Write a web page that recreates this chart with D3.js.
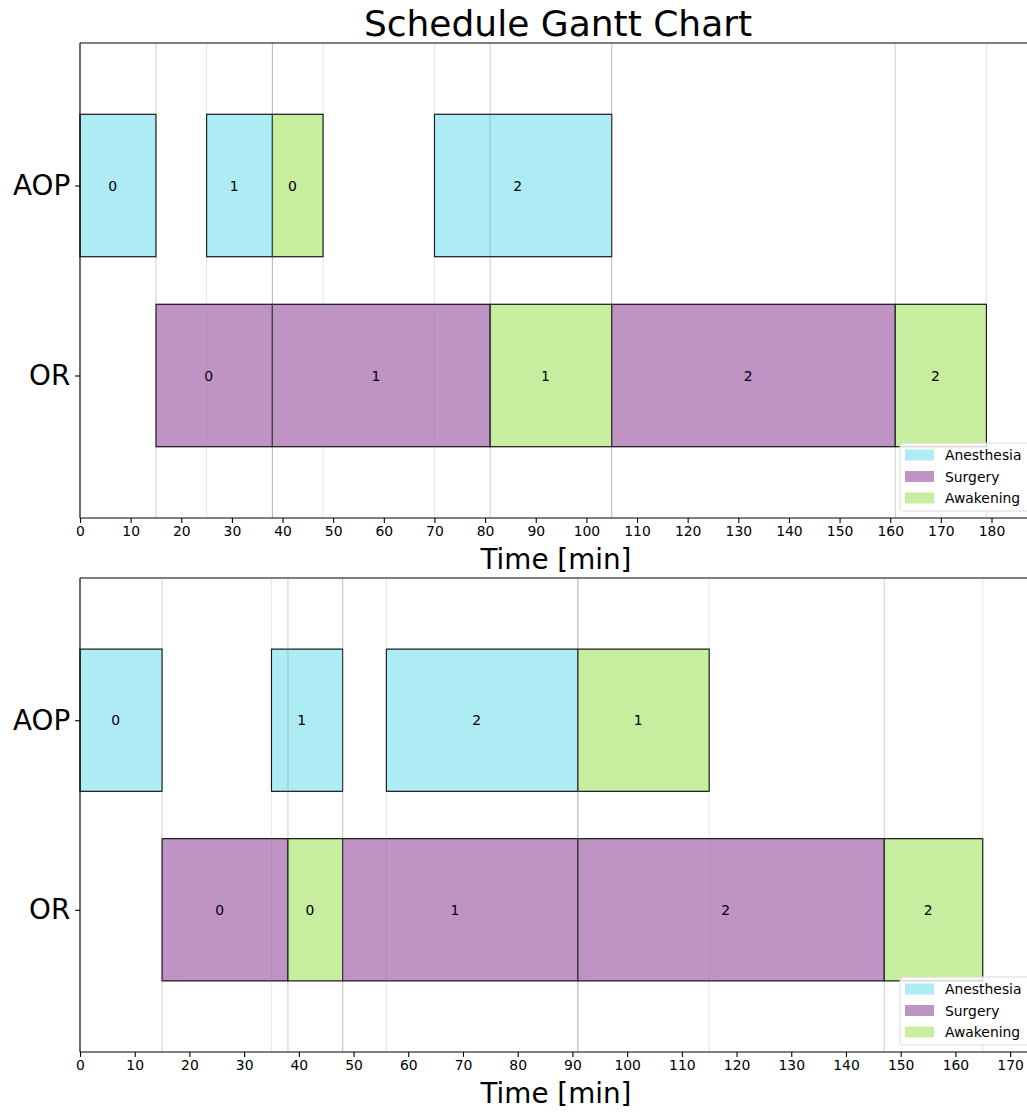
<!DOCTYPE html>
<html>
<head>
<meta charset="utf-8">
<script src="https://cdn.jsdelivr.net/npm/d3@7"></script>
<style>
  html, body { margin: 0; padding: 0; background: #fff; overflow: hidden; }
  svg { display: block; font-family: "DejaVu Sans", sans-serif; }
</style>
</head>
<body>
<svg id="chart" width="1027" height="1113"></svg>
<script>
// ---- data ----
const resources = ["AOP", "OR"];
const phases = ["Anesthesia", "Surgery", "Awakening"];
const phaseColors = ["#ADEBF5", "#BF94C4", "#C7EE9F"];
const title = "Schedule Gantt Chart";
const xLabel = "Time [min]";

// schedule 1 (top)
const s1Resource = ["AOP", "AOP", "AOP", "AOP", "OR", "OR", "OR", "OR", "OR"];
const s1Phase    = ["Anesthesia", "Anesthesia", "Awakening", "Anesthesia", "Surgery", "Surgery", "Awakening", "Surgery", "Awakening"];
const s1Patient  = [0, 1, 0, 2, 0, 1, 1, 2, 2];
const s1Start    = [0, 25, 38, 70, 15, 38, 81, 105, 161];
const s1End      = [15, 38, 48, 105, 38, 81, 105, 161, 179];
const s1XMax = 188;
const s1Ticks = [0,10,20,30,40,50,60,70,80,90,100,110,120,130,140,150,160,170,180];

// schedule 2 (bottom)
const s2Resource = ["AOP", "AOP", "AOP", "AOP", "OR", "OR", "OR", "OR", "OR"];
const s2Phase    = ["Anesthesia", "Anesthesia", "Anesthesia", "Awakening", "Surgery", "Awakening", "Surgery", "Surgery", "Awakening"];
const s2Patient  = [0, 1, 2, 1, 0, 0, 1, 2, 2];
const s2Start    = [0, 35, 56, 91, 15, 38, 48, 91, 147];
const s2End      = [15, 48, 91, 115, 38, 48, 91, 147, 165];
const s2XMax = 174;
const s2Ticks = [0,10,20,30,40,50,60,70,80,90,100,110,120,130,140,150,160,170];

// ---- drawing ----
const svg = d3.select("#chart");
const color = d3.scaleOrdinal().domain(phases).range(phaseColors);
const AX_LEFT = 80, AX_W = 952;

svg.append("text")
  .attr("x", 558).attr("y", 36)
  .attr("text-anchor", "middle")
  .attr("font-size", 36).attr("fill", "#000")
  .text(title);

function drawPanel(top, bottom, resArr, phaseArr, patArr, startArr, endArr, xMax, ticks) {
  const x = d3.scaleLinear().domain([0, xMax]).range([AX_LEFT, AX_LEFT + AX_W]);
  const y = d3.scaleLinear().domain([-0.75, 1.75]).range([top, bottom]);
  const yIndex = d3.scaleOrdinal().domain(resources).range([0, 1]);
  const barH = y(0.375) - y(-0.375);
  const tasks = resArr.map((r, i) => ({ r, p: phaseArr[i], n: patArr[i], s: startArr[i], e: endArr[i] }));

  const g = svg.append("g");

  // bars
  g.selectAll("rect.bar").data(tasks).join("rect")
    .attr("class", "bar")
    .attr("x", d => x(d.s))
    .attr("y", d => y(yIndex(d.r)) - barH / 2)
    .attr("width", d => x(d.e) - x(d.s))
    .attr("height", barH)
    .attr("fill", d => color(d.p))
    .attr("stroke", "#000").attr("stroke-width", 1.1);

  // bar labels
  g.selectAll("text.lbl").data(tasks).join("text")
    .attr("class", "lbl")
    .attr("x", d => x((d.s + d.e) / 2) - 1)
    .attr("y", d => y(yIndex(d.r)) + 5)
    .attr("text-anchor", "end")
    .attr("font-size", 13.9).attr("fill", "#000")
    .text(d => d.n);

  // vertical guide lines at each start/end
  const bounds = [];
  tasks.forEach(d => { bounds.push(d.s); bounds.push(d.e); });
  g.selectAll("line.vl").data(bounds).join("line")
    .attr("class", "vl")
    .attr("x1", d => x(d)).attr("x2", d => x(d))
    .attr("y1", top).attr("y2", bottom)
    .attr("stroke", "#808080").attr("stroke-opacity", 0.18).attr("stroke-width", 1.1);

  // spines
  g.append("line").attr("x1", AX_LEFT).attr("x2", AX_LEFT + AX_W).attr("y1", top).attr("y2", top)
    .attr("stroke", "#000").attr("stroke-width", 1.1);
  g.append("line").attr("x1", AX_LEFT).attr("x2", AX_LEFT + AX_W).attr("y1", bottom).attr("y2", bottom)
    .attr("stroke", "#000").attr("stroke-width", 1.1);
  g.append("line").attr("x1", AX_LEFT).attr("x2", AX_LEFT).attr("y1", top).attr("y2", bottom)
    .attr("stroke", "#000").attr("stroke-width", 1.1);

  // x axis
  const xa = svg.append("g").attr("transform", `translate(0,${bottom})`)
    .call(d3.axisBottom(x).tickValues(ticks).tickSize(4.9).tickPadding(3.5).tickFormat(d3.format("d")));
  xa.select(".domain").remove();
  xa.selectAll(".tick line").attr("stroke", "#000").attr("stroke-width", 1.1);
  xa.selectAll(".tick text").attr("font-size", 13.9).attr("fill", "#000")
    .attr("font-family", "DejaVu Sans, sans-serif");

  // y axis
  const ya = svg.append("g").attr("transform", `translate(${AX_LEFT},0)`)
    .call(d3.axisLeft(y).tickValues([0, 1]).tickSize(4.9).tickPadding(4.9).tickFormat(i => resources[i]));
  ya.select(".domain").remove();
  ya.selectAll(".tick line").attr("stroke", "#000").attr("stroke-width", 1.1);
  ya.selectAll(".tick text").attr("font-size", 27.8).attr("fill", "#000")
    .attr("font-family", "DejaVu Sans, sans-serif");

  // x label
  svg.append("text")
    .attr("x", AX_LEFT + AX_W / 2).attr("y", bottom + 51)
    .attr("text-anchor", "middle")
    .attr("font-size", 27.8).attr("fill", "#000")
    .text(xLabel);

  // legend (lower right)
  const lgBottom = bottom - 7, lgTop = lgBottom - 68, lgLeft = 900, lgRight = 1032;
  const lg = svg.append("g");
  lg.append("rect").attr("x", lgLeft).attr("y", lgTop)
    .attr("width", lgRight - lgLeft).attr("height", lgBottom - lgTop)
    .attr("rx", 3).attr("fill", "#fff").attr("fill-opacity", 0.8)
    .attr("stroke", "#d9d9d9").attr("stroke-width", 1);
  phases.forEach((p, i) => {
    const cy = lgTop + 12 + i * 21.5;
    lg.append("rect").attr("x", lgLeft + 5).attr("y", cy - 5.5)
      .attr("width", 29).attr("height", 11).attr("fill", color(p));
    lg.append("text").attr("x", lgLeft + 45).attr("y", cy + 5)
      .attr("font-size", 13.9).attr("fill", "#000").text(p);
  });
}

drawPanel(43, 518, s1Resource, s1Phase, s1Patient, s1Start, s1End, s1XMax, s1Ticks);
drawPanel(578, 1052, s2Resource, s2Phase, s2Patient, s2Start, s2End, s2XMax, s2Ticks);
</script>
</body>
</html>
